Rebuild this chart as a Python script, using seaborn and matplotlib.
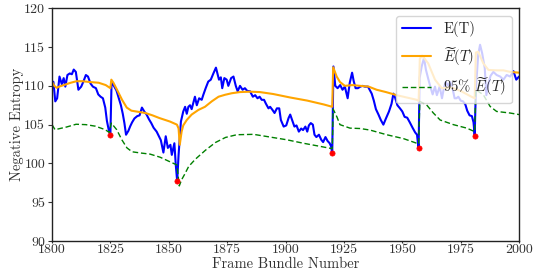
import numpy as np
import pandas as pd
import matplotlib
matplotlib.use("Agg")
import matplotlib.pyplot as plt
import seaborn as sns

# ---- data ----
e_x = [1800.0, 1800.6, 1801.4, 1802.2, 1803.2, 1804.2, 1805.0, 1805.7, 1806.6, 1807.6,
       1808.5, 1809.3, 1810.2, 1811.3, 1812.5, 1813.5, 1814.5, 1815.4, 1816.5, 1817.5,
       1818.8, 1819.8, 1820.8, 1821.8, 1822.8, 1823.5, 1824.3, 1825.0, 1825.5, 1826.5,
       1827.6, 1828.6, 1829.5, 1830.3, 1831.0, 1831.7, 1832.7, 1833.5, 1834.3, 1835.3,
       1836.5, 1837.5, 1838.5, 1839.5, 1840.5, 1841.5, 1842.5, 1843.5, 1844.8, 1845.8,
       1846.6, 1847.7, 1848.7, 1849.6, 1850.7, 1851.3, 1852.4, 1853.0, 1853.6, 1854.2,
       1855.2, 1856.2, 1857.0, 1857.7, 1858.4, 1859.1, 1859.8, 1861.2, 1862.0, 1863.0,
       1864.1, 1864.8, 1865.8, 1866.9, 1868.0, 1869.1, 1870.2, 1871.0, 1871.5, 1872.3,
       1872.9, 1873.8, 1874.8, 1875.5, 1876.7, 1877.7, 1878.7, 1879.5, 1880.5, 1881.6,
       1882.6, 1883.6, 1884.8, 1886.0, 1887.0, 1888.0, 1888.9, 1889.8, 1890.8, 1891.6,
       1892.7, 1893.4, 1894.4, 1895.3, 1896.3, 1897.3, 1898.0, 1899.2, 1900.3, 1901.3,
       1902.0, 1902.8, 1903.8, 1904.7, 1905.7, 1906.7, 1907.5, 1908.5, 1909.3, 1910.0,
       1910.8, 1911.7, 1912.4, 1913.2, 1914.3, 1915.3, 1916.1, 1917.1, 1918.0, 1918.9,
       1919.5, 1920.0, 1920.5, 1921.3, 1922.3, 1923.4, 1924.4, 1925.4, 1926.6, 1927.5,
       1928.5, 1929.2, 1930.0, 1931.0, 1932.0, 1933.0, 1934.0, 1935.3, 1936.2, 1936.9,
       1937.8, 1938.7, 1939.8, 1940.8, 1941.9, 1943.0, 1944.3, 1945.4, 1946.2, 1946.9,
       1947.9, 1949.0, 1950.0, 1951.0, 1952.1, 1953.2, 1954.4, 1955.5, 1956.3, 1956.6,
       1957.0, 1957.4, 1958.3, 1959.3, 1960.1, 1961.2, 1962.2, 1963.0, 1964.0, 1964.8,
       1966.0, 1967.0, 1967.8, 1968.6, 1969.6, 1970.5, 1971.5, 1972.4, 1973.2, 1974.0,
       1975.0, 1976.0, 1977.0, 1977.8, 1978.8, 1979.8, 1980.5, 1981.0, 1981.5, 1982.5,
       1983.3, 1984.2, 1985.3, 1986.0, 1986.8, 1987.8, 1989.0, 1990.4, 1991.9, 1993.3,
       1994.7, 1996.2, 1997.6, 1998.8, 2000.0]
e_y = [110.6, 110.5, 108.0, 108.4, 111.2, 110.2, 111.0, 109.9, 111.4, 111.6,
       111.5, 112.1, 111.8, 109.5, 109.9, 110.6, 111.4, 111.2, 110.3, 109.9,
       109.7, 108.9, 108.6, 108.4, 107.2, 105.5, 104.3, 103.7, 110.5, 110.0,
       109.4, 108.4, 107.5, 106.4, 105.2, 103.7, 104.2, 104.8, 105.3, 105.8,
       106.1, 106.2, 107.2, 106.7, 106.3, 105.7, 105.2, 104.6, 104.1, 103.5,
       103.0, 101.4, 103.5, 102.0, 102.4, 101.1, 102.6, 99.8, 97.7, 101.1,
       105.4, 106.7, 107.3, 106.4, 107.3, 107.5, 107.0, 108.6, 107.5, 108.4,
       108.2, 108.85, 109.7, 110.55, 110.8, 111.6, 112.35, 111.4, 110.8, 111.1,
       109.7, 111.0, 110.8, 110.0, 111.0, 111.2, 110.0, 109.3, 110.0, 109.5,
       109.7, 109.35, 109.3, 108.6, 108.8, 108.4, 108.6, 108.2, 108.2, 107.7,
       107.1, 107.3, 106.9, 106.5, 107.1, 107.1, 105.6, 104.75, 104.9, 105.85,
       106.3, 105.6, 104.75, 104.9, 104.1, 104.5, 104.3, 104.75, 104.1, 104.9,
       105.2, 105.0, 103.7, 103.4, 103.7, 103.05, 102.75, 103.4, 102.9, 102.6,
       102.2, 101.3, 112.5, 110.0, 109.7, 110.1, 109.5, 109.9, 108.4, 110.4,
       111.7, 110.6, 109.7, 109.7, 109.9, 110.0, 109.9, 109.9, 109.4, 109.0,
       108.1, 107.0, 106.3, 105.6, 105.0, 105.8, 106.7, 107.7, 109.0, 108.5,
       107.5, 107.1, 106.7, 106.0, 105.9, 105.3, 104.6, 104.0, 103.7, 102.9,
       102.0, 111.0, 112.5, 113.6, 112.1, 110.8, 109.7, 108.9, 109.9, 108.8,
       109.9, 108.4, 109.7, 110.5, 110.0, 110.5, 109.7, 108.4, 108.4, 108.6,
       108.1, 108.0, 107.6, 106.8, 106.2, 106.1, 105.3, 103.6, 109.5, 114.0,
       115.3, 114.2, 112.3, 108.8, 110.2, 111.3, 111.8, 111.4, 111.2, 110.8,
       111.4, 111.2, 111.9, 110.8, 111.2]

et_x = [1800, 1801, 1802, 1803, 1805, 1808, 1810.5, 1813, 1816, 1820, 1823, 1825,
        1825.4, 1826.3, 1828, 1830, 1832, 1834, 1836, 1840, 1843, 1846, 1850.5, 1853.5,
        1854.2, 1854.7, 1855.5, 1856.2, 1857.7, 1859.8, 1862.7, 1865.5, 1868.4, 1871.3,
        1874.1, 1877, 1880.5, 1885, 1889, 1894.7, 1902, 1909.3, 1916.4, 1920,
        1920.4, 1921.9, 1923.3, 1925.4, 1928.6, 1932, 1935.6, 1939, 1943, 1947.6, 1951.9,
        1956.2, 1957, 1957.5, 1958.5, 1961.1, 1964, 1966.9, 1971, 1975.3, 1979.6, 1981,
        1981.5, 1982.5, 1984.7, 1986.9, 1990.5, 1993.3, 1996.2, 2000]
et_y = [110.5, 110.0, 109.75, 109.9, 110.1, 110.4, 110.6, 110.6, 110.5, 110.4, 110.1, 109.7,
        110.8, 110.4, 109.4, 108.2, 107.2, 106.8, 106.7, 106.5, 106.2, 105.85, 105.4, 105.0,
        104.5, 102.4, 104.1, 104.9, 105.6, 106.3, 106.9, 107.3, 108.0, 108.6,
        108.85, 109.05, 109.2, 109.25, 109.2, 108.95, 108.5, 108.1, 107.6, 107.3,
        112.4, 111.2, 110.5, 110.0, 110.1, 110.0, 109.9, 109.5, 109.2, 108.8, 108.5,
        108.2, 108.05, 113.5, 113.9, 112.9, 110.8, 109.7, 109.8, 109.3, 108.6, 108.4,
        114.3, 114.4, 112.9, 112.05, 112.0, 112.0, 111.8, 111.7]

lb_x = [1800, 1801.3, 1803.4, 1806.3, 1810.3, 1814.5, 1818.6, 1822.8, 1824.5, 1825.4,
        1827.7, 1829.9, 1832.1, 1834.3, 1837.8, 1842, 1846.3, 1850.6, 1853.5, 1854.5,
        1855.5, 1856.8, 1858.5, 1861.4, 1865.7, 1870, 1874.3, 1879.1, 1886.3, 1893.4,
        1900.5, 1907.7, 1914.8, 1920, 1920.4, 1922, 1923.3, 1927.6, 1932, 1936.2,
        1943.3, 1950.5, 1956.2, 1957, 1957.5, 1960.4, 1963.3, 1966.2, 1971.9, 1977.6,
        1981, 1981.5, 1984.7, 1987.6, 1990.4, 1996.1, 2000]
lb_y = [105.0, 104.35, 104.5, 104.7, 105.05, 105.0, 104.8, 104.35, 104.0, 105.2,
        104.35, 103.05, 102.0, 101.5, 101.35, 101.2, 100.8, 100.2, 99.8, 97.1,
        97.9, 98.6, 99.6, 100.55, 101.7, 102.7, 103.35, 103.7, 103.75, 103.4,
        103.05, 102.6, 102.2, 101.9, 107.0, 106.0, 105.0, 104.55, 104.5, 104.3,
        103.7, 103.2, 102.6, 102.5, 108.0, 107.55, 106.5, 105.6, 105.0, 104.55,
        104.1, 109.5, 108.85, 107.35, 106.7, 106.5, 106.3]

cp_x = [1825, 1853.6, 1920, 1957, 1981]
cp_y = [103.7, 97.7, 101.3, 102.0, 103.5]

x_ticks = [1800, 1825, 1850, 1875, 1900, 1925, 1950, 1975, 2000]
y_ticks = [90, 95, 100, 105, 110, 115, 120]

# ---- style ----
sns.set_style("ticks")
plt.rcParams["font.family"] = ["cmr10", "DejaVu Serif"]
plt.rcParams["mathtext.fontset"] = "cm"
plt.rcParams["axes.unicode_minus"] = False
plt.rcParams["axes.formatter.use_mathtext"] = True

fig = plt.figure(figsize=(5.39, 2.72), dpi=100)
ax = fig.add_axes([0.0965, 0.114, 0.8665, 0.8555])

df_e = pd.DataFrame({"x": e_x, "y": e_y})
df_et = pd.DataFrame({"x": et_x, "y": et_y})
df_lb = pd.DataFrame({"x": lb_x, "y": lb_y})
df_cp = pd.DataFrame({"x": cp_x, "y": cp_y})

sns.lineplot(data=df_e, x="x", y="y", ax=ax, color="blue", lw=1.5,
             estimator=None, label="E(T)")
sns.lineplot(data=df_et, x="x", y="y", ax=ax, color="orange", lw=1.5,
             estimator=None, label=r"$\widetilde{E}(T)$")
sns.lineplot(data=df_lb, x="x", y="y", ax=ax, color="green", lw=1.0,
             estimator=None, label=r"95% $\widetilde{E}(T)$")
ax.lines[-1].set_dashes([4, 2])
sns.scatterplot(data=df_cp, x="x", y="y", ax=ax, color="red", s=14,
                marker="o", edgecolor="red", linewidth=0.5, zorder=5)

ax.set_xlim(1800, 2000)
ax.set_ylim(90, 120)
ax.set_xticks(x_ticks)
ax.set_yticks(y_ticks)
ax.set_xticklabels([str(t) for t in x_ticks])
ax.set_yticklabels([str(t) for t in y_ticks])
ax.tick_params(labelsize=10, width=0.8, colors="#333333")
ax.tick_params(axis="x", length=1.5, pad=0.5)
ax.tick_params(axis="y", length=3, pad=2)
ax.set_xlabel("Frame Bundle Number", fontsize=10.5, color="#333333")
ax.set_ylabel("Negative Entropy", fontsize=10.5, color="#333333")
ax.xaxis.set_label_coords(0.5, -0.068)
ax.yaxis.set_label_coords(-0.06, 0.5)
for s in ax.spines.values():
    s.set_linewidth(1.0)
    s.set_color("#222222")

leg = ax.legend(loc="upper right", fontsize=10.5, framealpha=0.8, fancybox=True,
                edgecolor="0.8", borderaxespad=0.5)
for h in leg.get_lines():
    if h.get_color() == "green":
        h.set_dashes([4, 2])

fig.savefig("out.png", dpi=100)
